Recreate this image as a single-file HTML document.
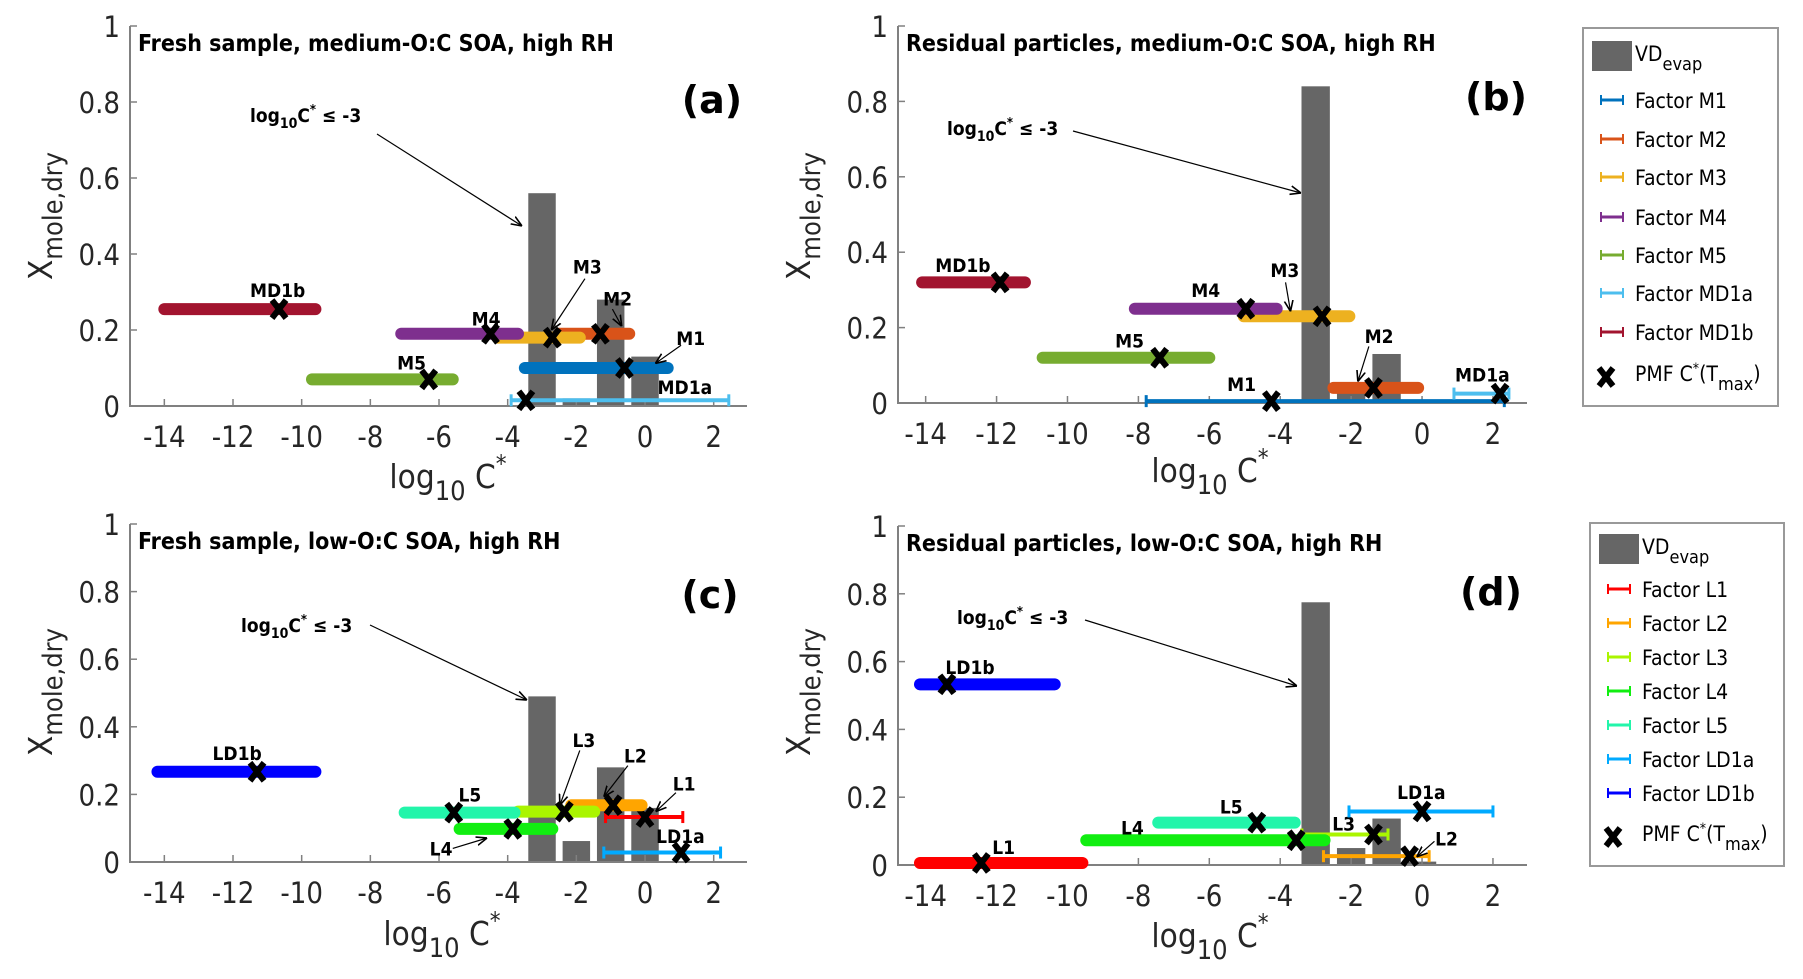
<!DOCTYPE html>
<html><head><meta charset="utf-8"><style>
html,body{margin:0;padding:0;background:#fff}
svg{display:block}
.tk{font-family:"DejaVu Sans Condensed","Liberation Sans",sans-serif;font-stretch:condensed;font-size:29px;fill:#262626}
.ttl{font-family:"DejaVu Sans Condensed","Liberation Sans",sans-serif;font-stretch:condensed;font-weight:bold;font-size:23px;fill:#000}
.lbl{font-family:"DejaVu Sans Condensed","Liberation Sans",sans-serif;font-stretch:condensed;font-weight:bold;font-size:19px;fill:#000}
.pl{font-family:"DejaVu Sans","Liberation Sans",sans-serif;font-weight:bold;font-size:38px;fill:#000}
.ax{font-family:"DejaVu Sans Condensed","Liberation Sans",sans-serif;font-stretch:condensed;font-size:33px;fill:#262626}
.lg{font-family:"DejaVu Sans Condensed","Liberation Sans",sans-serif;font-stretch:condensed;font-size:21px;fill:#000}
</style></head><body>
<svg id="fig" width="1803" height="979" viewBox="0 0 1803 979" xmlns="http://www.w3.org/2000/svg">
<defs><marker id="ah" viewBox="0 0 10 10" refX="10" refY="5" markerWidth="9" markerHeight="9" orient="auto"><path d="M0,1 L10,5 L0,9" fill="none" stroke="#000" stroke-width="1.5"/></marker></defs>
</svg>
<script>
// ---------- data ----------
const barCenters = [-3, -2, -1, 0, 1, 2];
const barsA = [0.56, 0.02, 0.28, 0.13, 0.005, 0.0];
const barsB = [0.84, 0.05, 0.13, 0.005, 0.0, 0.0];
const barsC = [0.49, 0.062, 0.28, 0.16, 0.0, 0.0];
const barsD = [0.775, 0.05, 0.137, 0.01, 0.0, 0.0];
const xTicks = [-14, -12, -10, -8, -6, -4, -2, 0, 2];
const yTicks = [0, 0.2, 0.4, 0.6, 0.8, 1];
const yTickLabels = ["0", "0.2", "0.4", "0.6", "0.8", "1"];

const namesM = ["M1", "M2", "M3", "M4", "M5", "MD1a", "MD1b"];
const colorsM = ["#0072BD", "#D95319", "#EDB120", "#7E2F8E", "#77AC30", "#4DBEEE", "#A2142F"];
const namesL = ["L1", "L2", "L3", "L4", "L5", "LD1a", "LD1b"];
const colorsL = ["#FF0000", "#FFA500", "#AAF500", "#11EE11", "#22F5AA", "#00AAFF", "#0000FF"];

// panel a
const aXc = [-0.6, -1.3, -2.7, -4.5, -6.3, -3.47, -10.66];
const aY = [0.10, 0.19, 0.18, 0.19, 0.07, 0.015, 0.255];
const aLo = [-3.5, -2.5, -4.3, -7.1, -9.7, -3.9, -14.0];
const aHi = [0.66, -0.46, -1.9, -3.7, -5.6, 2.44, -9.6];
const aThick = [1, 1, 1, 1, 1, 0, 1];
const aLx = [1.33, -0.8, -1.68, -4.63, -6.8, 1.16, -10.7];
const aLy = [0.179, 0.283, 0.367, 0.23, 0.114, 0.05, 0.305];
// panel b
const bXc = [-4.25, -1.37, -2.82, -4.97, -7.4, 2.2, -11.9];
const bY = [0.005, 0.04, 0.23, 0.25, 0.12, 0.025, 0.32];
const bLo = [-7.78, -2.5, -5.03, -8.1, -10.7, 0.9, -14.1];
const bHi = [2.32, -0.11, -2.05, -4.1, -6.0, 2.45, -11.2];
const bThick = [0, 1, 1, 1, 1, 0, 1];
const bLx = [-5.09, -1.21, -3.87, -6.1, -8.25, 1.7, -12.95];
const bLy = [0.051, 0.178, 0.353, 0.30, 0.166, 0.075, 0.366];
// panel c
const cXc = [0.0, -0.93, -2.35, -3.85, -5.57, 1.05, -11.3];
const cY = [0.133, 0.168, 0.149, 0.098, 0.146, 0.028, 0.267];
const cLo = [-1.15, -2.15, -3.7, -5.4, -7.0, -1.2, -14.2];
const cHi = [1.1, -0.1, -1.48, -2.7, -3.8, 2.2, -9.6];
const cThick = [0, 1, 1, 1, 1, 0, 1];
const cLx = [1.14, -0.28, -1.78, -5.94, -5.1, 1.03, -11.88];
const cLy = [0.232, 0.315, 0.361, 0.04, 0.2, 0.077, 0.323];
// panel d
const dXc = [-12.43, -0.35, -1.37, -3.55, -4.66, 0.0, -13.4];
const dY = [0.006, 0.026, 0.09, 0.073, 0.125, 0.158, 0.533];
const dLo = [-14.16, -2.78, -3.39, -9.47, -7.44, -2.06, -14.16];
const dHi = [-9.58, 0.2, -0.96, -2.75, -3.59, 2.0, -10.36];
const dThick = [1, 0, 0, 1, 1, 0, 1];
const dLx = [-11.8, 0.69, -2.21, -8.17, -5.38, -0.02, -12.75];
const dLy = [0.053, 0.078, 0.122, 0.11, 0.173, 0.215, 0.584];

// label arrows: [factor index, tipX, tipY, startX, startY]
const aArrows = [[2, -2.73, 0.20, -1.75, 0.335], [1, -0.68, 0.21, -0.95, 0.255], [0, 0.3, 0.112, 1.05, 0.16]];
const bArrows = [[2, -3.71, 0.243, -3.85, 0.32], [1, -1.81, 0.057, -1.5, 0.15]];
const cArrows = [[3, -4.6, 0.071, -5.6, 0.04], [2, -2.48, 0.168, -1.9, 0.33], [1, -1.2, 0.193, -0.5, 0.285], [0, 0.31, 0.149, 0.9, 0.205]];
const dArrows = [[1, -0.15, 0.024, 0.35, 0.07]];

// ---------- drawing ----------
const svg = document.getElementById('fig');
const NS = 'http://www.w3.org/2000/svg';
function mk(tag, attrs, parent) {
  const e = document.createElementNS(NS, tag);
  for (const k in attrs) e.setAttribute(k, attrs[k]);
  (parent || svg).appendChild(e);
  return e;
}

const panels = [
  {id:'a', title:'Fresh sample, medium-O:C SOA, high RH', left:130, right:747, xmin:-15, xmax:2.97, y0:406, y1:26, bars:barsA,
   xc:aXc, y:aY, lo:aLo, hi:aHi, th:aThick, lx:aLx, ly:aLy, arrows:aArrows, names:namesM, colors:colorsM,
   note:[250,115,377,134,522,226], plab:[712,100], ylab:[52,216], xlab:[448,478]},
  {id:'b', title:'Residual particles, medium-O:C SOA, high RH', left:898, right:1527, xmin:-14.78, xmax:2.96, y0:403, y1:26, bars:barsB,
   xc:bXc, y:bY, lo:bLo, hi:bHi, th:bThick, lx:bLx, ly:bLy, arrows:bArrows, names:namesM, colors:colorsM,
   note:[947,128,1073,131,1301,193], plab:[1496,97], ylab:[810,216], xlab:[1210,472]},
  {id:'c', title:'Fresh sample, low-O:C SOA, high RH', left:130, right:747, xmin:-15, xmax:2.97, y0:862, y1:524, bars:barsC,
   xc:cXc, y:cY, lo:cLo, hi:cHi, th:cThick, lx:cLx, ly:cLy, arrows:cArrows, names:namesL, colors:colorsL,
   note:[241,625,370,625,527,700], plab:[710,595], ylab:[52,692], xlab:[442,935]},
  {id:'d', title:'Residual particles, low-O:C SOA, high RH', left:898, right:1527, xmin:-14.78, xmax:2.96, y0:865, y1:526, bars:barsD,
   xc:dXc, y:dY, lo:dLo, hi:dHi, th:dThick, lx:dLx, ly:dLy, arrows:dArrows, names:namesL, colors:colorsL,
   note:[957,617,1085,620,1297,686], plab:[1491,592], ylab:[810,692], xlab:[1210,937]}
];

panels.forEach(p => {
  const g = mk('g', {});
  
  
  const sx = v => p.left + (v - p.xmin) * (p.right - p.left) / (p.xmax - p.xmin);
  const sy = v => p.y0 - v * (p.y0 - p.y1);
  p.bars.forEach((h, i) => {
    if (h <= 0.005) return;
    const r = mk('rect', {x: sx(barCenters[i] - 0.4), y: sy(h), width: sx(barCenters[i] + 0.4) - sx(barCenters[i] - 0.4), height: sy(0) - sy(h), fill: '#666666'}, g);
    
    
  });
  const axl = mk('path', {d: `M${p.left},${p.y1} V${p.y0} H${p.right}`, fill: 'none', stroke: '#808080', 'stroke-width': 2}, g);
  
  
  xTicks.forEach(t => {
    mk('line', {x1: sx(t), x2: sx(t), y1: p.y0, y2: p.y0 - 7, stroke: '#808080', 'stroke-width': 1.5}, g);
    const tl = mk('text', {x: sx(t), y: p.y0 + 41, 'text-anchor': 'middle', class: 'tk'}, g);
    tl.textContent = t;
    
    
  });
  yTicks.forEach((t, i) => {
    mk('line', {x1: p.left, x2: p.left + 7, y1: sy(t), y2: sy(t), stroke: '#808080', 'stroke-width': 1.5}, g);
    const tl = mk('text', {x: p.left - 10, y: sy(t) + 11, 'text-anchor': 'end', class: 'tk'}, g);
    tl.textContent = yTickLabels[i];
    
    
  });
  p.xc.forEach((xc, i) => {
    const thick = p.th[i];
    const w = thick ? 12 : 4;
    const c = p.colors[i];
    const fg = mk('g', {}, g);
    
    
    mk('line', {x1: sx(p.lo[i]), x2: sx(p.hi[i]), y1: sy(p.y[i]), y2: sy(p.y[i]), stroke: c, 'stroke-width': w, 'stroke-linecap': thick ? 'round' : 'butt'}, fg);
    if (!thick) {
      [p.lo[i], p.hi[i]].forEach(e => mk('line', {x1: sx(e), x2: sx(e), y1: sy(p.y[i]) - 6, y2: sy(p.y[i]) + 6, stroke: c, 'stroke-width': 3}, fg));
    }
    const X = sx(xc), Y = sy(p.y[i]);
    const m = mk('path', {d: `M${X-7},${Y-9} L${X+7},${Y+9} M${X+7},${Y-9} L${X-7},${Y+9}`, stroke: '#000', 'stroke-width': 6}, fg);
    
    
    const t = mk('text', {x: sx(p.lx[i]), y: sy(p.ly[i]) + 7, 'text-anchor': 'middle', class: 'lbl'}, fg);
    t.textContent = p.names[i];
    
    
  });
  p.arrows.forEach(a => {
    mk('line', {x1: sx(a[3]), y1: sy(a[4]), x2: sx(a[1]), y2: sy(a[2]), stroke: '#000', 'stroke-width': 1.2, 'marker-end': 'url(#ah)'}, g);
  });
  const n = p.note;
  const nt = mk('text', {x: n[0], y: n[1] + 7, class: 'lbl'}, g);
  nt.innerHTML = 'log<tspan dy="6" font-size="14">10</tspan><tspan dy="-6">C</tspan><tspan dy="-8" font-size="13">*</tspan><tspan dy="8"> ≤ -3</tspan>';
  
  
  mk('line', {x1: n[2], y1: n[3], x2: n[4], y2: n[5], stroke: '#000', 'stroke-width': 1.2, 'marker-end': 'url(#ah)'}, g);
  const tt = mk('text', {x: p.left + 8, y: p.y1 + 25, class: 'ttl'}, g);
  tt.textContent = p.title;
  
  
  const pl = mk('text', {x: p.plab[0], y: p.plab[1] + 13, 'text-anchor': 'middle', class: 'pl'}, g);
  pl.textContent = '(' + p.id + ')';
  
  
  const yl = mk('text', {x: 0, y: 0, class: 'ax', transform: `translate(${p.ylab[0]},${p.ylab[1]}) rotate(-90)`, 'text-anchor': 'middle'}, g);
  yl.innerHTML = 'X<tspan dy="10" font-size="27">mole,dry</tspan>';
  
  
  const xl = mk('text', {x: p.xlab[0], y: p.xlab[1] + 10, class: 'ax', 'text-anchor': 'middle'}, g);
  xl.innerHTML = 'log<tspan dy="12" font-size="27">10</tspan><tspan dy="-12"> C</tspan><tspan dy="-16" font-size="24">*</tspan>';
  
  
});

function legend(x, y, w, h, vdY, rowsY, pmfY, names, colors, id) {
  const g = mk('g', {});
  
  
  mk('rect', {x: x, y: y, width: w, height: h, fill: '#fff', stroke: '#999', 'stroke-width': 2}, g);
  mk('rect', {x: x + 9, y: vdY - 15, width: 40, height: 30, fill: '#666666'}, g);
  const vt = mk('text', {x: x + 52, y: vdY + 5, class: 'lg'}, g);
  vt.innerHTML = 'VD<tspan dy="9" font-size="18">evap</tspan>';
  
  
  names.forEach((nm, i) => {
    const yy = rowsY[i];
    mk('line', {x1: x + 18, x2: x + 40, y1: yy, y2: yy, stroke: colors[i], 'stroke-width': 3}, g);
    mk('line', {x1: x + 18, x2: x + 18, y1: yy - 5, y2: yy + 5, stroke: colors[i], 'stroke-width': 2}, g);
    mk('line', {x1: x + 40, x2: x + 40, y1: yy - 5, y2: yy + 5, stroke: colors[i], 'stroke-width': 2}, g);
    const t = mk('text', {x: x + 52, y: yy + 8, class: 'lg'}, g);
    t.textContent = 'Factor ' + nm;
    
    
  });
  const X = x + 23, Y = pmfY;
  mk('path', {d: `M${X-7},${Y-9} L${X+7},${Y+9} M${X+7},${Y-9} L${X-7},${Y+9}`, stroke: '#000', 'stroke-width': 6}, g);
  const pt = mk('text', {x: x + 52, y: pmfY + 4, class: 'lg'}, g);
  pt.innerHTML = 'PMF C<tspan dy="-8" font-size="14">*</tspan><tspan dy="8">(T</tspan><tspan dy="9" font-size="18">max</tspan><tspan dy="-9">)</tspan>';
  
  
}
legend(1583, 28, 195, 378, 56, [100, 139, 177, 217, 255, 293, 332], 377, namesM, colorsM, 'medium');
legend(1590, 523, 194, 343, 549, [589, 623, 657, 691, 725, 759, 793], 837, namesL, colorsL, 'low');
</script>
</body></html>
